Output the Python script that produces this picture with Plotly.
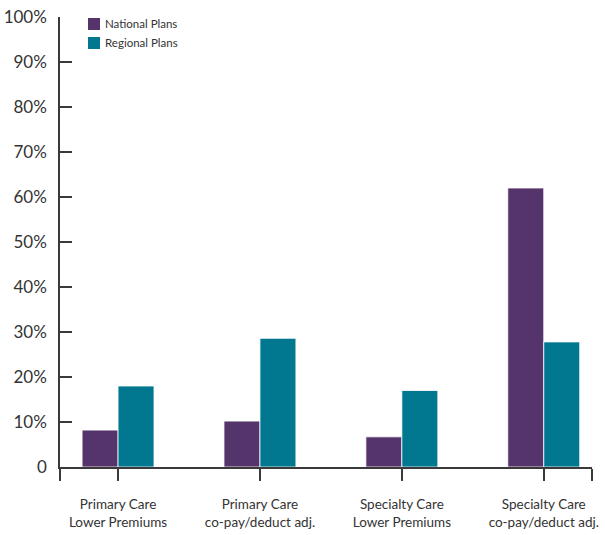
import plotly.graph_objects as go

# Survey responses by plan type (% of plans)
categories = [
    "Primary Care<br>Lower Premiums",
    "Primary Care<br>co-pay/deduct adj.",
    "Specialty Care<br>Lower Premiums",
    "Specialty Care<br>co-pay/deduct adj.",
]
series_names = ["National Plans", "Regional Plans"]
national_plans = [8.2, 10.2, 6.7, 62.0]
regional_plans = [18.0, 28.6, 17.0, 27.8]
y_tick_values = [0, 10, 20, 30, 40, 50, 60, 70, 80, 90, 100]
y_tick_labels = ["0", "10%", "20%", "30%", "40%", "50%", "60%", "70%", "80%", "90%", "100%"]

PURPLE = "#55336b"
TEAL = "#017890"
AXIS = "#3a3a3a"
TEXT = "#333333"
FONT = "Lato, 'Open Sans', sans-serif"

x_pos = list(range(len(categories)))
x_lo, x_hi = -0.409, 3.34

fig = go.Figure()
for name, vals, color in zip(series_names, [national_plans, regional_plans], [PURPLE, TEAL]):
    fig.add_trace(go.Bar(
        name=name, x=x_pos, y=vals, showlegend=False,
        marker=dict(color=color, line=dict(color="white", width=0.8)),
    ))

# Compact legend: square swatch followed closely by its label
PLOT_W, PLOT_H = 605 - 60 - 13, 535 - 17 - 68
for i, (name, color) in enumerate(zip(series_names, [PURPLE, TEAL])):
    top_px = 0 + 1 + i * 19          # px below plot top
    x0 = (88 - 60) / PLOT_W
    x1 = (100 - 60) / PLOT_W
    y1 = 1 - top_px / PLOT_H
    y0 = 1 - (top_px + 12) / PLOT_H
    fig.add_shape(type="rect", xref="paper", yref="paper",
                  x0=x0, x1=x1, y0=y0, y1=y1,
                  fillcolor=color, line=dict(width=0))
    fig.add_annotation(xref="paper", yref="paper",
                       x=(103 - 60) / PLOT_W, y=(y0 + y1) / 2,
                       xanchor="left", yanchor="middle", showarrow=False,
                       text=name, font=dict(size=11.5, color=TEXT, family=FONT))

fig.update_layout(
    width=605, height=535,
    margin=dict(l=60, r=13, t=17, b=68),
    paper_bgcolor="white", plot_bgcolor="white",
    barmode="group", bargap=0.493, bargroupgap=0,
    font=dict(family=FONT, color=TEXT),
    showlegend=False,
    xaxis=dict(
        range=[x_lo, x_hi],
        tickmode="array",
        tickvals=[x_lo + 0.002] + x_pos + [x_hi - 0.002],
        ticktext=[""] + categories + [""],
        ticks="outside", ticklen=12, tickwidth=1.5, tickcolor=AXIS,
        showline=True, linecolor=AXIS, linewidth=2,
        showgrid=False, zeroline=False, automargin=False,
        tickfont=dict(size=13.5, color=TEXT),
        ticklabelstandoff=12,
    ),
    yaxis=dict(
        range=[0, 100],
        tickmode="array", tickvals=y_tick_values, ticktext=y_tick_labels,
        ticks="inside", ticklen=12, tickwidth=1.5, tickcolor=AXIS,
        showline=True, linecolor=AXIS, linewidth=1.5,
        showgrid=False, zeroline=False, automargin=False,
        tickfont=dict(size=17, color=TEXT),
        ticklabelstandoff=8,
    ),
)

fig.write_html("out.html")
